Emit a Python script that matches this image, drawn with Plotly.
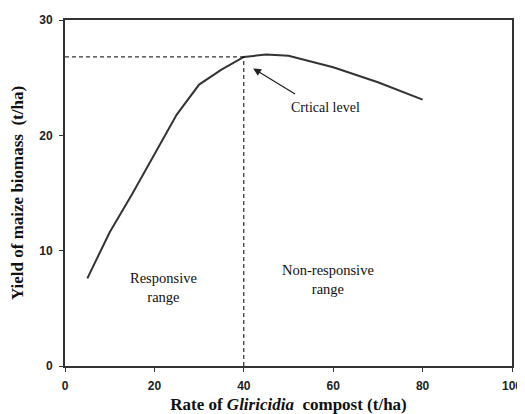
import plotly.graph_objects as go

rate = [5, 10, 15, 20, 25, 30, 35, 40, 45, 50, 60, 70, 80]
yield_biomass = [7.6, 11.6, 14.9, 18.3, 21.8, 24.4, 25.7, 26.8, 27.0, 26.9, 25.9, 24.6, 23.1]
critical_x = 40
critical_y = 26.8

x_ticks = [0, 20, 40, 60, 80, 100]
y_ticks = [0, 10, 20, 30]

fig = go.Figure()
fig.add_trace(go.Scatter(x=rate, y=yield_biomass, mode="lines",
                         line=dict(color="#333", width=2), showlegend=False))
fig.add_trace(go.Scatter(x=[0, critical_x], y=[critical_y, critical_y], mode="lines",
                         line=dict(color="black", width=1, dash="4px,3px"), showlegend=False))
fig.add_trace(go.Scatter(x=[critical_x, critical_x], y=[0, critical_y], mode="lines",
                         line=dict(color="black", width=1, dash="4px,3px"), showlegend=False))

serif = "Liberation Serif, Times New Roman, serif"
fig.add_annotation(x=42.1, y=25.8, ax=51.8, ay=23.5, xref="x", yref="y", axref="x", ayref="y",
                   text="", showarrow=True, arrowhead=2, arrowsize=1.2, arrowwidth=1.3, arrowcolor="#222")
fig.add_annotation(x=58.2, y=22.4, text="Crtical level", showarrow=False,
                   font=dict(family=serif, size=14, color="#111"))
fig.add_annotation(x=22, y=6.8, text="Responsive<br>range", showarrow=False,
                   font=dict(family=serif, size=14.5, color="#111"))
fig.add_annotation(x=58.9, y=7.5, text="Non-responsive<br>range", showarrow=False,
                   font=dict(family=serif, size=14.5, color="#111"))

tickfont = dict(family="Liberation Sans, Arial", size=12, color="#222", weight="bold")
fig.update_layout(
    width=517, height=406,
    margin=dict(l=57, r=13, t=12, b=48),
    paper_bgcolor="white", plot_bgcolor="white",
    xaxis=dict(range=[0, 100], tickvals=x_ticks, showgrid=False, zeroline=False,
               showline=True, mirror=True, linecolor="#333", linewidth=2,
               ticks="outside", ticklen=4, tickcolor="#333", automargin=False,
               ticklabelstandoff=4, tickfont=tickfont,
               title=dict(text="Rate of <i>Gliricidia</i>  compost (t/ha)", standoff=8,
                          font=dict(family=serif, size=17, color="#111", weight="bold"))),
    yaxis=dict(range=[0, 30], tickvals=y_ticks, showgrid=False, zeroline=False,
               showline=True, mirror=True, linecolor="#333", linewidth=2,
               ticks="outside", ticklen=4, tickcolor="#333", automargin=False,
               ticklabelstandoff=4, tickfont=tickfont,
               title=dict(text="Yield of maize biomass  (t/ha)", standoff=12,
                          font=dict(family=serif, size=17, color="#111", weight="bold"))),
)

fig.write_html("out.html")
